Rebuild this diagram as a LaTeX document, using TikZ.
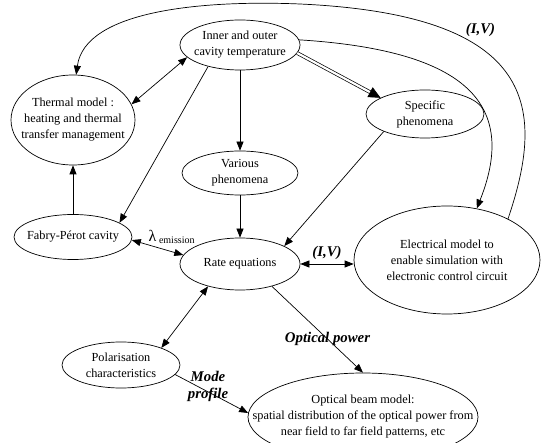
\documentclass[tikz,border=0pt]{standalone}
\usepackage{fontspec}
\setmainfont{Liberation Serif}
\usetikzlibrary{arrows.meta,shapes.geometric}

\tikzset{
  txt/.style={align=center, inner sep=0pt, font=\fontsize{12.3}{16}\selectfont},
  ell/.style={draw, ellipse, inner sep=0pt, line width=0.7pt,
    label={[txt]center:{#1}}},
  lbl/.style={font=\fontsize{14.8}{17}\selectfont\bfseries\itshape,
    align=center, inner sep=1pt},
  link/.style={line width=0.7pt},
}

\begin{document}
\begin{tikzpicture}[x=1pt, y=-1pt, >={Triangle[length=9pt,width=7pt]}]
    \useasboundingbox (0,0) rectangle (546,443);

    % Thermal side
    \node[ell={Inner and outer\\cavity temperature},
      minimum width=120pt, minimum height=50pt] (inner) at (240,45) {};
    \node[ell={Thermal model :\\heating and thermal\\transfer management},
      minimum width=124pt, minimum height=90pt] (thermal) at (73,120) {};
    \node[ell={Fabry-Pérot cavity},
      minimum width=118pt, minimum height=45pt] (fabry) at (73,237) {};
    \node[ell={Specific\\phenomena},
      minimum width=118pt, minimum height=48pt] (specific) at (425,114) {};
    \node[ell={Various\\phenomena},
      minimum width=116pt, minimum height=44pt] (various) at (240,173) {};

    % Rate equations and outputs
    \node[ell={Rate equations},
      minimum width=120pt, minimum height=52pt] (rate) at (240,264) {};
    \node[ell={Electrical model to\\enable simulation with\\electronic control circuit},
      minimum width=186pt, minimum height=108pt] (elec) at (447,260) {};
    \node[ell={Polarisation\\characteristics},
      minimum width=118pt, minimum height=46pt] (pol) at (121,365) {};
    \node[ell={Optical beam model:\\spatial distribution of the optical power from\\near field to far field patterns, etc},
      minimum width=230pt, minimum height=88pt] (optical) at (363,417) {};

    % Links from the cavity temperature
    \draw[link,<->] (thermal.15) -- (inner.193);
    \draw[link,->] (inner.south) -- (various.north);
    \draw[link,->] (inner.214) -- (fabry.17);
    \draw[link,double,double distance=2.2pt,-{Triangle[length=12pt,width=11pt]}]
      (inner.-8) -- (specific.160);
    \draw[link,->] (inner.5) .. controls (460,50) and (520,100) .. (elec.60);
    \draw[link,->] (fabry.north) -- (thermal.south);

    % Feedback of the electrical model
    \draw[link,->] (elec.34) .. controls (545,110) and (540,15)
      .. node[lbl, pos=0.68, anchor=south west] {(I,V)} (300,4)
      .. controls (204,0) and (85,10) .. (thermal.86);

    % Links of the rate equations
    \draw[link,<->] (fabry.-3) -- node[pos=0.3, above right, inner sep=1pt]
      {\fontsize{16}{16}\selectfont λ\,\raisebox{-2pt}{\fontsize{10}{12}\selectfont emission}} (rate.171);
    \draw[link,->] (various.south) -- (rate.north);
    \draw[link,->] (specific.203) -- (rate.22);
    \draw[link,<->] (rate.east) -- node[lbl, above=3pt] {(I,V)} (rate.east -| elec.west);
    \draw[link,<->] (rate.215) -- (pol.23);
    \draw[link,->] (rate.-35) -- node[lbl, pos=0.61] {Optical power} (optical.north);
    \draw[link,->] (pol.-10) -- node[lbl, pos=0.45, yshift=5pt] {Mode\\profile} (optical.178);

\end{tikzpicture}
\end{document}
